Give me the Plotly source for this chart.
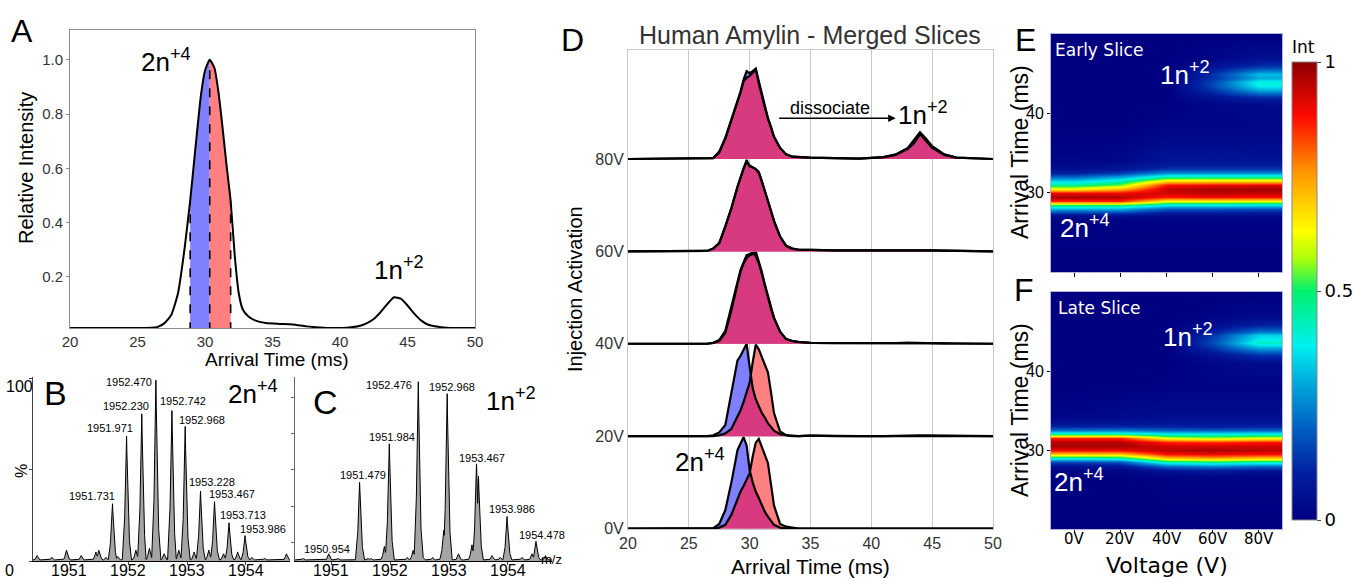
import numpy as np
import plotly.graph_objects as go

# ---------------- DATA ----------------
# Panel A: arrival time distribution
A_TIME = [20, 26, 26.5, 27, 27.5, 28, 28.5, 28.9, 29.3, 29.7, 30.0, 30.35, 30.7, 31.0, 31.3, 31.6, 31.9,
          32.2, 32.5, 32.8, 33.2, 33.7, 34.5, 35.5, 36.5, 37.5, 38.5, 39.5, 40.5, 41.5, 42.0, 42.5, 43.0,
          43.5, 44.0, 44.5, 45.0, 45.5, 46.0, 46.5, 47.5, 48.5, 50]
A_INT = [0.012, 0.013, 0.016, 0.03, 0.06, 0.14, 0.31, 0.48, 0.68, 0.87, 0.96, 1.0, 0.97, 0.88, 0.75, 0.61,
         0.48, 0.28, 0.14, 0.08, 0.055, 0.04, 0.03, 0.027, 0.025, 0.018, 0.014, 0.012, 0.013, 0.02, 0.03,
         0.045, 0.07, 0.1, 0.125, 0.12, 0.095, 0.065, 0.04, 0.025, 0.015, 0.012, 0.012]
A_SLICE_BOUNDS = [28.9, 30.35, 31.9]

# Panel B: 2n+4 mass spectrum (labelled peaks + minor peaks), % intensity
B_PEAK_MZ = [1951.731, 1951.971, 1952.230, 1952.470, 1952.742, 1952.968, 1953.228, 1953.467, 1953.713, 1953.986]
B_PEAK_H = [32, 69, 81, 100, 83.5, 74, 39, 33, 21, 14]
B_MINOR_MZ = [1950.45, 1950.70, 1950.95, 1951.20, 1951.45, 1951.50, 1951.62, 1951.82, 1952.13, 1952.36,
              1952.61, 1952.86, 1953.12, 1953.37, 1953.62, 1953.86, 1954.10, 1954.32, 1954.69]
B_MINOR_H = [3, 2, 6, 3, 5, 6, 2, 2.5, 6, 7, 4, 6, 5, 6, 4, 5, 2, 1.5, 4]
MZ_TICKS = [1951, 1952, 1953, 1954]

# Panel C: 1n+2 mass spectrum
C_PEAK_MZ = [1950.954, 1951.479, 1951.984, 1952.476, 1952.968, 1953.467, 1953.986, 1954.478]
C_PEAK_H = [4, 44, 65, 100, 92, 54, 24.5, 11]
C_MINOR_MZ = [1950.52, 1951.11, 1951.62, 1951.67, 1951.90, 1952.29, 1952.39, 1952.55, 1952.72, 1952.91,
              1953.16, 1953.39, 1953.50, 1953.73, 1953.87, 1954.24, 1954.41, 1954.64]
C_MINOR_H = [1.5, 1.5, 1.5, 1.5, 8, 2, 6, 2.5, 2, 17, 4, 9, 47, 3, 2, 2, 4, 3]

# Panel D: early (blue) / late (red) slice arrival time profiles per injection voltage
D_VOLT_LABELS = ['0V', '20V', '40V', '60V', '80V']
D_TIME = [20, 26.5, 27, 27.5, 28, 28.5, 29, 29.25, 29.5, 29.75, 30, 30.25, 30.5, 30.75, 31, 31.25, 31.5,
          31.75, 32, 32.5, 33, 33.5, 34, 35, 37, 39, 41, 42, 43, 43.5, 44, 44.5, 45, 46, 47, 50]
D_EARLY_0V = [0, 0, 0.005, 0.05, 0.2, 0.5, 0.85, 0.92, 0.99, 0.9, 0.63, 0.5, 0.4, 0.33, 0.25, 0.18, 0.13,
              0.08, 0.04, 0.01, 0, 0, 0, 0, 0, 0, 0, 0, 0, 0, 0, 0, 0, 0, 0, 0]
D_LATE_0V = [0, 0, 0, 0.01, 0.04, 0.15, 0.33, 0.4, 0.46, 0.53, 0.6, 0.78, 0.93, 0.97, 0.88, 0.78, 0.71,
             0.48, 0.25, 0.05, 0.02, 0.01, 0, 0, 0, 0, 0, 0, 0, 0, 0, 0, 0, 0, 0, 0]
D_EARLY_20V = [0, 0, 0.01, 0.04, 0.12, 0.45, 0.82, 0.87, 0.94, 1.0, 0.75, 0.52, 0.4, 0.32, 0.25, 0.2, 0.14,
               0.1, 0.06, 0.02, 0.01, 0, 0, 0.005, 0, 0, 0, 0.005, 0.008, 0.008, 0.008, 0.008, 0.008, 0.005, 0, 0]
D_LATE_20V = [0, 0, 0, 0.01, 0.03, 0.08, 0.21, 0.28, 0.37, 0.47, 0.58, 0.8, 0.99, 0.94, 0.86, 0.79, 0.69,
              0.48, 0.25, 0.05, 0.01, 0.005, 0, 0.005, 0, 0, 0, 0.005, 0.008, 0.008, 0.008, 0.008, 0.008, 0.005, 0, 0]
D_EARLY_40V = [0, 0, 0.01, 0.04, 0.14, 0.4, 0.68, 0.8, 0.88, 0.96, 0.97, 0.99, 0.95, 0.87, 0.76, 0.63, 0.5,
               0.38, 0.28, 0.13, 0.05, 0.03, 0.02, 0.01, 0.008, 0.005, 0.005, 0.008, 0.01, 0.008, 0.008, 0.01,
               0.008, 0.005, 0.003, 0]
D_LATE_40V = [0, 0, 0.01, 0.03, 0.12, 0.36, 0.65, 0.78, 0.87, 0.93, 0.96, 0.97, 1.0, 0.9, 0.78, 0.64, 0.51,
              0.39, 0.28, 0.13, 0.05, 0.03, 0.02, 0.01, 0.008, 0.005, 0.005, 0.008, 0.01, 0.008, 0.008, 0.01,
              0.008, 0.005, 0.003, 0]
D_EARLY_60V = [0, 0.005, 0.03, 0.09, 0.27, 0.47, 0.7, 0.8, 0.9, 0.99, 0.92, 0.91, 0.89, 0.85, 0.76, 0.66,
               0.55, 0.44, 0.33, 0.16, 0.06, 0.03, 0.02, 0.015, 0.01, 0.01, 0.012, 0.012, 0.01, 0.01, 0.01,
               0.01, 0.01, 0.008, 0.005, 0]
D_LATE_60V = [0, 0.005, 0.03, 0.09, 0.27, 0.47, 0.7, 0.8, 0.9, 0.97, 0.93, 0.91, 0.89, 0.86, 0.76, 0.66,
              0.55, 0.44, 0.33, 0.16, 0.06, 0.03, 0.02, 0.015, 0.01, 0.01, 0.012, 0.012, 0.01, 0.01, 0.01,
              0.01, 0.01, 0.008, 0.005, 0]
D_EARLY_80V = [0, 0.005, 0.01, 0.08, 0.23, 0.43, 0.62, 0.73, 0.86, 0.95, 0.93, 0.95, 0.98, 0.84, 0.7, 0.57,
               0.44, 0.35, 0.24, 0.12, 0.05, 0.025, 0.02, 0.015, 0.01, 0.005, 0.02, 0.05, 0.12, 0.2, 0.29,
               0.22, 0.14, 0.05, 0.015, 0]
D_LATE_80V = [0, 0.005, 0.01, 0.07, 0.22, 0.42, 0.61, 0.72, 0.84, 0.88, 0.9, 0.93, 0.97, 0.82, 0.68, 0.56,
              0.44, 0.34, 0.24, 0.12, 0.05, 0.025, 0.02, 0.015, 0.01, 0.005, 0.02, 0.045, 0.11, 0.17, 0.27,
              0.19, 0.12, 0.045, 0.015, 0]

# Panels E/F: heatmaps (rows = arrival time, columns = voltage)
HM_VOLT = [0, 20, 40, 60, 80]
HM_VOLT_LABELS = ['0V', '20V', '40V', '60V', '80V']
HM_TIME = [20, 26.5, 27, 27.5, 28, 28.5, 29, 29.5, 30, 30.5, 31, 31.5, 32, 32.5, 33, 33.5, 34, 35, 36, 38,
           41, 42, 42.5, 43, 43.5, 44, 44.5, 45, 45.5, 46, 47, 50]
E_Z = [
    [0, 0, 0, 0, 0],
    [0.01, 0.01, 0.01, 0.01, 0.01],
    [0.04, 0.04, 0.03, 0.03, 0.03],
    [0.14, 0.14, 0.08, 0.08, 0.08],
    [0.3, 0.3, 0.18, 0.18, 0.17],
    [0.5, 0.5, 0.38, 0.38, 0.37],
    [0.86, 0.86, 0.63, 0.63, 0.63],
    [0.97, 0.96, 0.87, 0.89, 0.88],
    [0.9, 0.9, 0.93, 0.95, 0.94],
    [0.64, 0.72, 0.94, 0.97, 0.98],
    [0.47, 0.55, 0.88, 0.9, 0.91],
    [0.35, 0.43, 0.68, 0.68, 0.68],
    [0.22, 0.3, 0.46, 0.46, 0.46],
    [0.1, 0.15, 0.27, 0.27, 0.27],
    [0.05, 0.07, 0.14, 0.14, 0.14],
    [0.03, 0.05, 0.09, 0.09, 0.09],
    [0.02, 0.03, 0.07, 0.07, 0.07],
    [0.01, 0.02, 0.06, 0.06, 0.05],
    [0.01, 0.01, 0.04, 0.04, 0.04],
    [0, 0, 0.02, 0.02, 0.02],
    [0, 0, 0, 0.02, 0.03],
    [0, 0, 0, 0.06, 0.12],
    [0, 0, 0, 0.1, 0.2],
    [0, 0, 0, 0.13, 0.3],
    [0, 0, 0, 0.16, 0.38],
    [0, 0, 0, 0.16, 0.4],
    [0, 0, 0, 0.13, 0.3],
    [0, 0, 0, 0.13, 0.32],
    [0, 0, 0, 0.1, 0.22],
    [0, 0, 0, 0.06, 0.13],
    [0, 0, 0, 0.02, 0.05],
    [0, 0, 0, 0, 0],
]
F_Z = [
    [0, 0, 0, 0, 0],
    [0, 0, 0.01, 0.01, 0.01],
    [0.01, 0.01, 0.03, 0.04, 0.03],
    [0.02, 0.02, 0.08, 0.1, 0.08],
    [0.06, 0.07, 0.22, 0.26, 0.22],
    [0.16, 0.18, 0.44, 0.46, 0.44],
    [0.42, 0.44, 0.7, 0.74, 0.7],
    [0.7, 0.7, 0.88, 0.9, 0.88],
    [0.9, 0.9, 0.95, 0.97, 0.95],
    [0.97, 0.97, 0.93, 0.93, 0.93],
    [0.96, 0.96, 0.86, 0.85, 0.87],
    [0.86, 0.86, 0.62, 0.58, 0.62],
    [0.46, 0.46, 0.4, 0.4, 0.41],
    [0.22, 0.23, 0.2, 0.19, 0.2],
    [0.1, 0.11, 0.1, 0.09, 0.1],
    [0.05, 0.06, 0.07, 0.07, 0.07],
    [0.03, 0.04, 0.05, 0.05, 0.05],
    [0.01, 0.03, 0.04, 0.04, 0.04],
    [0.01, 0.02, 0.03, 0.03, 0.03],
    [0, 0, 0.01, 0.01, 0.01],
    [0, 0, 0, 0.02, 0.04],
    [0, 0, 0, 0.06, 0.13],
    [0, 0, 0, 0.1, 0.22],
    [0, 0, 0, 0.14, 0.32],
    [0, 0, 0, 0.17, 0.42],
    [0, 0, 0, 0.16, 0.38],
    [0, 0, 0, 0.14, 0.35],
    [0, 0, 0, 0.1, 0.24],
    [0, 0, 0, 0.07, 0.16],
    [0, 0, 0, 0.04, 0.09],
    [0, 0, 0, 0.01, 0.03],
    [0, 0, 0, 0, 0],
]

# ---------------- STYLE / LAYOUT HELPERS ----------------
W, H = 1354, 578
FONT = 'Liberation Sans, Arial, sans-serif'
BLUE = '#8080ff'
RED = '#ff8080'
MAGENTA = '#d83a80'
MZ_RANGE = [1950.38, 1954.75]


def dx(a, b):
    return [a / W, b / W]


def dy(top, bottom):
    return [1 - bottom / H, 1 - top / H]


fig = go.Figure()

# ---- Panel A ----
for (lo, hi), col in zip([(A_SLICE_BOUNDS[0], A_SLICE_BOUNDS[1]), (A_SLICE_BOUNDS[1], A_SLICE_BOUNDS[2])], [BLUE, RED]):
    xs = [lo] + [t for t in A_TIME if lo < t < hi] + [hi]
    ys = list(np.interp(xs, A_TIME, A_INT))
    fig.add_trace(go.Scatter(x=xs + xs[::-1], y=ys + [0] * len(xs), fill='toself', fillcolor=col,
                             mode='none', xaxis='x', yaxis='y', showlegend=False))
fig.add_trace(go.Scatter(x=A_TIME, y=A_INT, mode='lines', line=dict(color='black', width=2, shape='spline', smoothing=0.5),
                         xaxis='x', yaxis='y', showlegend=False))
for b in A_SLICE_BOUNDS:
    fig.add_trace(go.Scatter(x=[b, b], y=[0, float(np.interp(b, A_TIME, A_INT))], mode='lines',
                             line=dict(color='black', width=1.6, dash='dash'), xaxis='x', yaxis='y', showlegend=False))

# ---- Panels B & C: spectra ----
SHAPE_DX = np.array([-0.075, -0.04, -0.015, 0, 0.015, 0.04, 0.075])
SHAPE_F = np.array([0, 0.22, 0.65, 1, 0.65, 0.22, 0])


def spectrum(mz_list, h_list):
    grid = np.linspace(MZ_RANGE[0], MZ_RANGE[1], 2500)
    y = np.full_like(grid, 0.6)
    for m, h in zip(mz_list, h_list):
        y = np.maximum(y, np.interp(grid, m + SHAPE_DX, h * SHAPE_F, left=0, right=0))
    return grid, y


for (pmz, ph, mmz, mh), (xa, ya) in zip(
        [(B_PEAK_MZ, B_PEAK_H, B_MINOR_MZ, B_MINOR_H), (C_PEAK_MZ, C_PEAK_H, C_MINOR_MZ, C_MINOR_H)],
        [('x2', 'y2'), ('x3', 'y3')]):
    gx, gy = spectrum(list(pmz) + list(mmz), list(ph) + list(mh))
    fig.add_trace(go.Scatter(x=gx, y=gy, mode='lines', fill='tozeroy', fillcolor='rgb(165,165,165)',
                             line=dict(color='black', width=1), xaxis=xa, yaxis=ya, showlegend=False))

# ---- Panel D: ridge profiles ----
D_EARLY = [D_EARLY_0V, D_EARLY_20V, D_EARLY_40V, D_EARLY_60V, D_EARLY_80V]
D_LATE = [D_LATE_0V, D_LATE_20V, D_LATE_40V, D_LATE_60V, D_LATE_80V]
for k, (e, l) in enumerate(zip(D_EARLY, D_LATE)):
    e = np.array(e)
    l = np.array(l)
    ov = np.minimum(e, l)
    for vals, col in [(e, BLUE), (l, RED), (ov, MAGENTA)]:
        fig.add_trace(go.Scatter(x=D_TIME + D_TIME[::-1], y=list(k + vals) + [k] * len(D_TIME),
                                 fill='toself', fillcolor=col, mode='none', xaxis='x4', yaxis='y4', showlegend=False))
    for vals in (e, l):
        fig.add_trace(go.Scatter(x=D_TIME, y=k + vals, mode='lines', line=dict(color='black', width=2.2),
                                 xaxis='x4', yaxis='y4', showlegend=False))

# ---- Panels E & F: heatmaps ----
fig.add_trace(go.Heatmap(x=HM_VOLT, y=HM_TIME, z=E_Z, coloraxis='coloraxis', zsmooth='best',
                         xaxis='x5', yaxis='y5'))
fig.add_trace(go.Heatmap(x=HM_VOLT, y=HM_TIME, z=F_Z, coloraxis='coloraxis', zsmooth='best',
                         xaxis='x6', yaxis='y6'))

# ---------------- AXES ----------------
common = dict(showgrid=False, zeroline=False)
fig.update_layout(
    width=W, height=H, autosize=False, margin=dict(l=0, r=0, t=0, b=0, autoexpand=False),
    paper_bgcolor='white', plot_bgcolor='white', font=dict(family=FONT, color='black'),
    showlegend=False,
    xaxis=dict(domain=dx(70, 475), range=[20, 50], tickvals=[20, 25, 30, 35, 40, 45, 50], anchor='y',
               showline=True, linecolor='#8c8c8c', mirror=True, ticks='', tickfont=dict(size=15, color='#333'), **common),
    yaxis=dict(domain=dy(30, 328), range=[0.012, 1.11], tickvals=[0.2, 0.4, 0.6, 0.8, 1.0], tickformat='.1f',
               anchor='x', showline=True, linecolor='#8c8c8c', mirror=True, ticks='outside', ticklen=3,
               tickcolor='#8c8c8c', tickfont=dict(size=15, color='#333'), **common),
    xaxis2=dict(domain=dx(33, 290), range=MZ_RANGE, tickvals=MZ_TICKS, showticklabels=False, anchor='y2',
                showline=True, linecolor='black', ticks='outside', ticklen=3, **common),
    yaxis2=dict(domain=dy(377, 561), range=[0, 101], tickvals=[0, 50, 100], showticklabels=False, anchor='x2',
                showline=True, linecolor='#444', ticks='outside', ticklen=3, **common),
    xaxis3=dict(domain=dx(295, 552), range=MZ_RANGE, tickvals=MZ_TICKS, showticklabels=False, anchor='y3',
                showline=True, linecolor='black', ticks='outside', ticklen=3, **common),
    yaxis3=dict(domain=dy(377, 561), range=[0, 101], tickvals=[10, 30, 50, 70, 90], showticklabels=False,
                anchor='x3', showline=True, linecolor='#666', ticks='outside', ticklen=3, tickcolor='#666', **common),
    xaxis4=dict(domain=dx(628, 993), range=[20, 50], tickvals=[20, 25, 30, 35, 40, 45, 50], anchor='y4',
                showgrid=True, gridcolor='#c8c8c8', gridwidth=1.2, zeroline=False, showline=True,
                linecolor='#c8c8c8', mirror=True, tickfont=dict(size=16, color='#333')),
    yaxis4=dict(domain=dy(50, 529), range=[-0.005, 5.18], tickvals=[0, 1, 2, 3, 4], ticktext=D_VOLT_LABELS,
                anchor='x4', showline=True, linecolor='#c8c8c8', mirror=True, tickfont=dict(size=16, color='#333'),
                **common),
    xaxis5=dict(domain=dx(1051, 1282), range=[-10, 90], tickvals=HM_VOLT, showticklabels=False, anchor='y5',
                ticks='outside', ticklen=4, tickcolor='black', showline=True, linecolor='#b4b4d8', mirror=True, **common),
    yaxis5=dict(domain=dy(34, 272), range=[20, 50], tickvals=[30, 40], anchor='x5', ticks='outside', ticklen=3,
                tickcolor='black', showline=True, linecolor='#b4b4d8', mirror=True, tickfont=dict(size=16), **common),
    xaxis6=dict(domain=dx(1051, 1282), range=[-10, 90], tickvals=HM_VOLT, showticklabels=False, anchor='y6',
                ticks='outside', ticklen=3, tickcolor='black', showline=True, linecolor='#b4b4d8', mirror=True,
                **common),
    yaxis6=dict(domain=dy(292, 529), range=[20, 50], tickvals=[30, 40], anchor='x6', ticks='outside', ticklen=3,
                tickcolor='black', showline=True, linecolor='#b4b4d8', mirror=True, tickfont=dict(size=16), **common),
    coloraxis=dict(
        cmin=0, cmax=1,
        colorscale=[[0, 'rgb(0,0,128)'], [0.1, 'rgb(0,30,160)'], [0.2, 'rgb(0,95,195)'], [0.3, 'rgb(0,170,220)'],
                    [0.38, 'rgb(0,240,240)'], [0.5, 'rgb(0,240,110)'], [0.57, 'rgb(170,255,10)'],
                    [0.63, 'rgb(255,255,0)'], [0.76, 'rgb(255,150,0)'], [0.88, 'rgb(255,10,0)'],
                    [1, 'rgb(140,0,0)']],
        colorbar=dict(x=1292 / W, xanchor='left', xpad=0, y=1 - 62 / H, yanchor='top', ypad=0,
                      len=(520 - 62) / H, lenmode='fraction', thickness=25, thicknessmode='pixels',
                      outlinewidth=1, outlinecolor='#888', tickvals=[0, 0.5, 1], ticktext=['0', '0.5', '1'],
                      ticks='outside', ticklen=4, tickfont=dict(size=18, family='DejaVu Sans')),
    ),
)

# ---------------- ANNOTATIONS ----------------
ann = []


def lab(text, x, y, size, color='black', angle=0, family=FONT):
    ann.append(dict(text=text, x=x / W, y=1 - y / H, xref='paper', yref='paper', showarrow=False,
                    font=dict(size=size, color=color, family=family), textangle=angle,
                    xanchor='center', yanchor='middle', borderpad=0))


for t, x, y, s in [('A', 22, 31, 32), ('B', 55, 393, 34), ('C', 325, 402, 34), ('D', 572, 40, 32),
                   ('E', 1025, 40, 32), ('F', 1024, 290, 32)]:
    lab(t, x, y, s)

lab('2n<sup>+4</sup>', 166, 60, 26)
lab('1n<sup>+2</sup>', 399, 268, 26)
lab('Relative Intensity', 26, 168, 20, angle=-90)
lab('Arrival Time (ms)', 277, 359, 19)
lab('100', 19, 386, 16)
lab('%', 21, 471, 16, angle=-90)
lab('0', 9, 570, 16)
lab('2n<sup>+4</sup>', 253, 392, 26)
lab('1n<sup>+2</sup>', 511, 400, 26)
lab('m/z', 551, 559, 13)
lab('Human Amylin - Merged Slices', 810, 35, 25, color='#333')
lab('Injection Activation', 575, 289, 20, angle=-90)
lab('Arrival Time (ms)', 810, 566, 21)
lab('dissociate', 830, 108, 18)
lab('1n<sup>+2</sup>', 923, 113, 26)
lab('2n<sup>+4</sup>', 700, 460, 26)
lab('Arrival Time (ms)', 1020, 152, 23, angle=-90)
lab('Arrival Time (ms)', 1020, 410, 23, angle=-90)
lab('Early Slice', 1099, 50, 17, color='white', family='DejaVu Sans')
lab('1n<sup>+2</sup>', 1185, 73, 26, color='white')
lab('2n<sup>+4</sup>', 1085, 226, 26, color='white')
lab('Late Slice', 1099, 308, 17, color='white', family='DejaVu Sans')
lab('1n<sup>+2</sup>', 1188, 335, 26, color='white')
lab('2n<sup>+4</sup>', 1079, 480, 26, color='white')
lab('Voltage (V)', 1167, 565, 22, family='DejaVu Sans')
lab('Int', 1303, 47, 17, family='DejaVu Sans')

# tick labels drawn close to their axes (B, C m/z; F voltage)
for xa in ('x2', 'x3'):
    for t in MZ_TICKS:
        ann.append(dict(text=str(t), x=t, xref=xa, y=1 - 570 / H, yref='paper', showarrow=False,
                        xanchor='center', yanchor='middle', font=dict(size=16, family=FONT, color='black')))
for v, t in zip(HM_VOLT, HM_VOLT_LABELS):
    ann.append(dict(text=t, x=v, xref='x6', y=1 - 539 / H, yref='paper', showarrow=False,
                    xanchor='center', yanchor='middle', font=dict(size=15, family='DejaVu Sans', color='black')))

# arrow "dissociate"
ann.append(dict(x=42.0, y=4.44, ax=32.3, ay=4.44, xref='x4', yref='y4', axref='x4', ayref='y4', text='',
                showarrow=True, arrowhead=2, arrowsize=1, arrowwidth=1.5, arrowcolor='black'))

# peak labels (offsets in pixels: label-centre minus peak apex)
B_LABEL_SHIFT = [(-20, 7), (-17, 7), (-16, 7), (-27, -3), (11, 8), (17, 6), (12, 8), (17, 7), (14, 8), (18, 7)]
C_LABEL_SHIFT = [(-2, 5), (3, 6), (3, 6), (-29, -6), (5, 6), (5, 5), (5, 7), (6, 6)]
for mzs, hs, shifts, xa, ya in [(B_PEAK_MZ, B_PEAK_H, B_LABEL_SHIFT, 'x2', 'y2'),
                                (C_PEAK_MZ, C_PEAK_H, C_LABEL_SHIFT, 'x3', 'y3')]:
    for m, h, (sx, sy) in zip(mzs, hs, shifts):
        ann.append(dict(text=f'{m:.3f}', x=m, y=h, xref=xa, yref=ya, showarrow=False, xanchor='center',
                        yanchor='middle', xshift=sx, yshift=sy, font=dict(size=11, family=FONT, color='black')))

fig.update_layout(annotations=ann)
fig.write_html('out.html')
